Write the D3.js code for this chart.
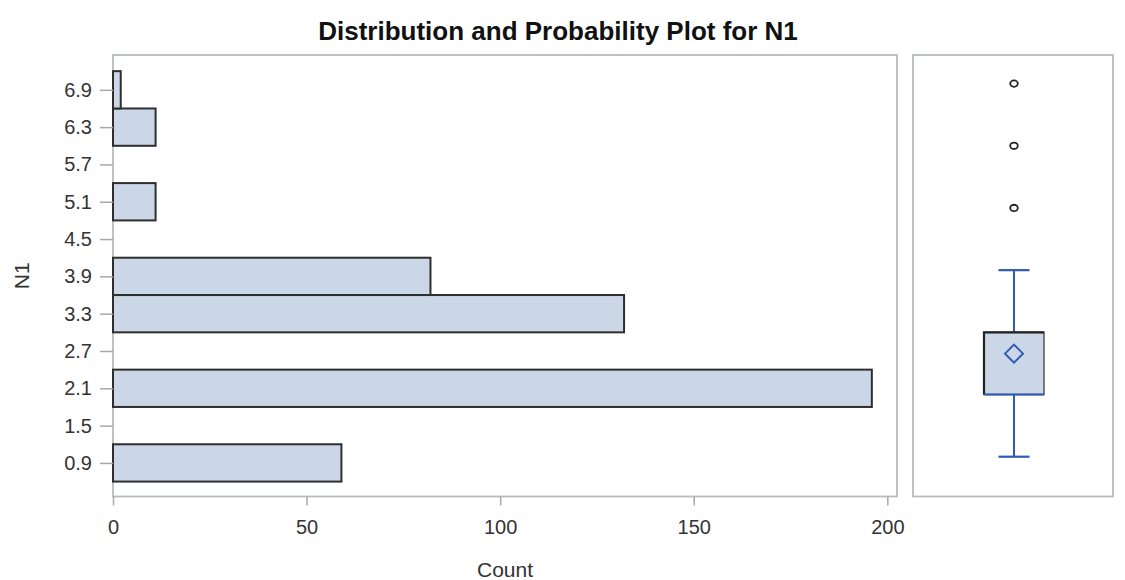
<!DOCTYPE html>
<html>
<head>
<meta charset="utf-8">
<script src="https://cdn.jsdelivr.net/npm/d3@7"></script>
<style>
  html, body { margin: 0; padding: 0; background: #fff; }
  svg { display: block; font-family: "Liberation Sans", Arial, sans-serif; }
</style>
</head>
<body>
<svg id="chart" width="1125" height="580"></svg>
<script>
// Histogram bins of N1 (midpoints) and their counts
const binMidpoints = [0.9, 1.5, 2.1, 2.7, 3.3, 3.9, 4.5, 5.1, 5.7, 6.3, 6.9];
const binCounts    = [59, 0, 196, 0, 132, 82, 0, 11, 0, 11, 2];
const binWidth = 0.6;
// Observed N1 values (integer) and how often each occurs
const n1Values = [1, 2, 3, 4, 5, 6, 7];
const n1Counts = [59, 196, 132, 82, 11, 11, 2];
const countTicks = [0, 50, 100, 150, 200];

const svg = d3.select("#chart");

const histFrame = { left: 113, right: 897, top: 55, bottom: 496.5 };
const boxFrame  = { left: 913, right: 1113, top: 55, bottom: 496.5 };

const fillColor = "#CBD6E6";
const outline = "#2e2e2e";
const blue = "#2F5BB5";
const frameColor = "#B9BCBF";
const textColor = "#333";

const x = d3.scaleLinear().domain([0, 202.5]).range([histFrame.left, histFrame.right]);
const y = d3.scaleLinear().domain([0.36, 7.46]).range([histFrame.bottom, histFrame.top]);

// Title
svg.append("text")
  .attr("x", 558).attr("y", 40)
  .attr("text-anchor", "middle")
  .attr("font-size", 26).attr("font-weight", "bold")
  .attr("fill", "#111")
  .text("Distribution and Probability Plot for N1");

// Histogram panel frame
svg.append("rect")
  .attr("x", histFrame.left).attr("y", histFrame.top)
  .attr("width", histFrame.right - histFrame.left)
  .attr("height", histFrame.bottom - histFrame.top)
  .attr("fill", "none").attr("stroke", frameColor).attr("stroke-width", 1.8);

// Bars
svg.append("g").selectAll("rect")
  .data(binMidpoints.map((m, i) => ({ m, c: binCounts[i] })).filter(d => d.c > 0))
  .join("rect")
  .attr("x", x(0))
  .attr("y", d => y(d.m + binWidth / 2))
  .attr("width", d => x(d.c) - x(0))
  .attr("height", d => y(d.m - binWidth / 2) - y(d.m + binWidth / 2))
  .attr("fill", fillColor)
  .attr("stroke", outline).attr("stroke-width", 2);

// Y axis (bin midpoints)
const yAxis = svg.append("g")
  .attr("transform", `translate(${histFrame.left},0)`)
  .call(d3.axisLeft(y).tickValues(binMidpoints).tickFormat(d3.format(".1f")).tickSize(13).tickPadding(8));
yAxis.select(".domain").remove();
yAxis.selectAll(".tick line").attr("stroke", "#A8A8A8").attr("stroke-width", 1.5);
yAxis.selectAll(".tick text").attr("font-size", 20).attr("fill", textColor)
  .attr("font-family", "'Liberation Sans', Arial, sans-serif");

// X axis (count)
const xAxis = svg.append("g")
  .attr("transform", `translate(0,${histFrame.bottom})`)
  .call(d3.axisBottom(x).tickValues(countTicks).tickSize(9).tickPadding(14));
xAxis.select(".domain").remove();
xAxis.selectAll(".tick line").attr("stroke", "#A8A8A8").attr("stroke-width", 1.5);
xAxis.selectAll(".tick text").attr("font-size", 20).attr("fill", textColor)
  .attr("font-family", "'Liberation Sans', Arial, sans-serif");

// Axis labels
svg.append("text")
  .attr("x", (histFrame.left + histFrame.right) / 2).attr("y", 577)
  .attr("text-anchor", "middle").attr("font-size", 21).attr("fill", textColor)
  .text("Count");
svg.append("text")
  .attr("transform", `translate(29,${(histFrame.top + histFrame.bottom) / 2}) rotate(-90)`)
  .attr("text-anchor", "middle").attr("font-size", 21).attr("fill", textColor)
  .text("N1");

// Box plot panel frame
svg.append("rect")
  .attr("x", boxFrame.left).attr("y", boxFrame.top)
  .attr("width", boxFrame.right - boxFrame.left)
  .attr("height", boxFrame.bottom - boxFrame.top)
  .attr("fill", "none").attr("stroke", frameColor).attr("stroke-width", 1.8);

// Box plot statistics from the observed values
const obs = n1Values.flatMap((v, i) => Array(n1Counts[i]).fill(v)).sort(d3.ascending);
const q1 = d3.quantile(obs, 0.25);
const med = d3.quantile(obs, 0.5);
const q3 = d3.quantile(obs, 0.75);
const iqr = q3 - q1;
const mean = d3.mean(obs);
const upperFence = q3 + 1.5 * iqr, lowerFence = q1 - 1.5 * iqr;
const whiskerHi = d3.max(obs.filter(v => v <= upperFence));
const whiskerLo = d3.min(obs.filter(v => v >= lowerFence));
const outliers = n1Values.filter(v => v > upperFence || v < lowerFence);

const cx = 1014, boxHalf = 30, capHalf = 15.5;
const bp = svg.append("g");

// Whiskers and caps
bp.append("line").attr("x1", cx).attr("x2", cx).attr("y1", y(q3)).attr("y2", y(whiskerHi))
  .attr("stroke", blue).attr("stroke-width", 2);
bp.append("line").attr("x1", cx).attr("x2", cx).attr("y1", y(q1)).attr("y2", y(whiskerLo))
  .attr("stroke", blue).attr("stroke-width", 2);
[whiskerHi, whiskerLo].forEach(v => {
  bp.append("line").attr("x1", cx - capHalf).attr("x2", cx + capHalf)
    .attr("y1", y(v)).attr("y2", y(v))
    .attr("stroke", blue).attr("stroke-width", 2.2);
});

// Box
bp.append("rect")
  .attr("x", cx - boxHalf).attr("y", y(q3))
  .attr("width", boxHalf * 2).attr("height", y(q1) - y(q3))
  .attr("fill", fillColor).attr("stroke", "#555").attr("stroke-width", 1.5);
bp.append("path")
  .attr("d", `M${cx - boxHalf},${y(q1)}V${y(q3)}H${cx + boxHalf}`)
  .attr("fill", "none").attr("stroke", "#222").attr("stroke-width", 2.2);

// Median
bp.append("line").attr("x1", cx - boxHalf).attr("x2", cx + boxHalf)
  .attr("y1", y(med)).attr("y2", y(med))
  .attr("stroke", blue).attr("stroke-width", 2);

// Mean marker
const dm = 9;
bp.append("path")
  .attr("d", `M${cx},${y(mean) - dm}L${cx + dm},${y(mean)}L${cx},${y(mean) + dm}L${cx - dm},${y(mean)}Z`)
  .attr("fill", "none").attr("stroke", blue).attr("stroke-width", 2);

// Outliers
bp.selectAll("ellipse.out").data(outliers).join("ellipse")
  .attr("class", "out")
  .attr("cx", cx).attr("cy", d => y(d))
  .attr("rx", 3.8).attr("ry", 3.2)
  .attr("fill", "none").attr("stroke", "#222").attr("stroke-width", 1.8);
</script>
</body>
</html>
